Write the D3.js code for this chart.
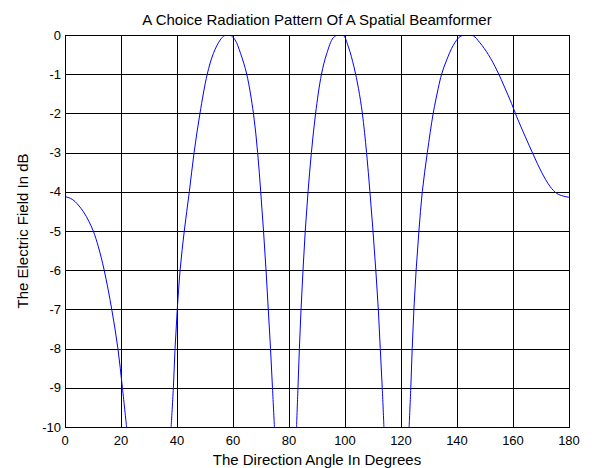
<!DOCTYPE html>
<html>
<head>
<meta charset="utf-8">
<script src="https://cdn.jsdelivr.net/npm/d3@7"></script>
<style>
  body { margin: 0; background: #fff; }
  text { font-family: "Liberation Sans", Arial, sans-serif; fill: #000; }
</style>
</head>
<body>
<div id="chart"></div>
<script>
// values; null marks a null of the pattern,
// which drops far below the -10 dB floor of the axes
const angleDeg = [0, 2, 3.6, 6.5, 8.5, 10.1, 11.9, 14.0, 16.7, 18.9, 20.5, 22.0,
  30,
  37.9, 38.7, 39.3, 40.1, 41.1, 42.6, 44.4, 46.1, 48.2, 50.8, 53.0, 55.4, 57.1, 58.9,
  60.7, 62.7, 64.9, 67.3, 68.8, 69.9, 70.9, 71.8, 72.6, 73.4, 74.1, 74.8,
  79,
  82.7, 83.2, 83.7, 84.3, 85.0, 85.8, 86.8, 88.0, 89.5, 91.6, 93.5, 95.8, 97.6,
  99.4, 101.2, 103.2, 104.8, 106.2, 107.7, 108.9, 110.0, 111.0, 111.9, 112.6, 113.3, 113.9,
  118.5,
  122.9, 123.5, 124.0, 124.6, 125.4, 126.4, 127.6, 129.4, 131.5, 133.3,
  134.5, 136.3, 138.7, 141.1, 143.5, 145.8, 148.2, 151.2, 154.4, 157.1, 159.5, 161.3,
  164.3, 167.3, 170.2, 173.2, 175.6, 178.0, 180];
const fieldDb = [-4.12, -4.17, -4.25, -4.5, -4.75, -5.0, -5.4, -6.0, -7.0, -8.0, -9.0, -10,
  null,
  -10, -9, -8, -7, -6, -5, -4, -3, -2, -1.0, -0.47, -0.13, -0.01, 0,
  -0.12, -0.47, -1.0, -2.0, -3.0, -4.0, -5.0, -6.0, -7.0, -8.0, -9.0, -10,
  null,
  -10, -9, -8, -7, -6, -5, -4, -3, -2, -1.0, -0.47, -0.07, 0,
  -0.01, -0.3, -0.81, -1.36, -2, -3, -4, -5, -6, -7, -8, -9, -10,
  null,
  -10, -9, -8, -7, -6, -5, -4, -3, -2, -1.36,
  -1.0, -0.64, -0.26, -0.04, 0, -0.02, -0.2, -0.5, -0.92, -1.35, -1.75, -2.08,
  -2.58, -3.06, -3.5, -3.86, -4.04, -4.11, -4.14];

const xTicks = [0, 20, 40, 60, 80, 100, 120, 140, 160, 180];
const yTicks = [0, -1, -2, -3, -4, -5, -6, -7, -8, -9, -10];

const titleText = "A Choice Radiation Pattern Of A Spatial Beamformer";
const xLabel = "The Direction Angle In Degrees";
const yLabel = "The Electric Field In dB";

const W = 592, H = 468;
const margin = { top: 35, right: 23, bottom: 41, left: 65 };
const width = W - margin.left - margin.right;
const height = H - margin.top - margin.bottom;

const svg = d3.select("#chart").append("svg")
  .attr("width", W).attr("height", H)
  .style("background", "#fff");

const g = svg.append("g")
  .attr("transform", `translate(${margin.left},${margin.top})`);

const x = d3.scaleLinear().domain([0, 180]).range([0, width]);
const y = d3.scaleLinear().domain([-10, 0]).range([height, 0]);

// grid (solid black, like the source)
g.append("g").selectAll("line").data(xTicks).join("line")
  .attr("x1", d => Math.round(x(d)) + 0.5).attr("x2", d => Math.round(x(d)) + 0.5)
  .attr("y1", 0).attr("y2", height)
  .attr("stroke", "#000").attr("stroke-width", 1);
g.append("g").selectAll("line").data(yTicks).join("line")
  .attr("y1", d => Math.round(y(d)) + 0.5).attr("y2", d => Math.round(y(d)) + 0.5)
  .attr("x1", 0).attr("x2", width)
  .attr("stroke", "#000").attr("stroke-width", 1);

g.append("clipPath").attr("id", "clip")
  .append("rect").attr("width", width + 1).attr("height", height + 1);

const line = d3.line()
  .defined(i => fieldDb[i] !== null)
  .x(i => x(angleDeg[i]))
  .y(i => y(fieldDb[i]))
  .curve(d3.curveCatmullRom.alpha(0.5));

g.append("path")
  .attr("clip-path", "url(#clip)")
  .attr("d", line(d3.range(angleDeg.length)))
  .attr("fill", "none")
  .attr("stroke", "#0000ff")
  .attr("stroke-width", 1);

// frame
g.append("rect")
  .attr("x", 0.5).attr("y", 0.5)
  .attr("width", width).attr("height", height)
  .attr("fill", "none").attr("stroke", "#000");

// tick labels
g.append("g").selectAll("text").data(xTicks).join("text")
  .attr("x", d => x(d)).attr("y", height + 18)
  .attr("text-anchor", "middle")
  .style("font-size", "13px")
  .text(d => d);
g.append("g").selectAll("text").data(yTicks).join("text")
  .attr("x", -4).attr("y", d => y(d))
  .attr("dy", "0.36em")
  .attr("text-anchor", "end")
  .style("font-size", "13px")
  .text(d => d);

// labels
svg.append("text")
  .attr("x", margin.left + width / 2).attr("y", 25)
  .attr("text-anchor", "middle")
  .style("font-size", "15px")
  .text(titleText);
svg.append("text")
  .attr("x", margin.left + width / 2).attr("y", 465)
  .attr("text-anchor", "middle")
  .style("font-size", "15px")
  .text(xLabel);
svg.append("text")
  .attr("transform", `translate(28,${margin.top + height / 2}) rotate(-90)`)
  .attr("text-anchor", "middle")
  .style("font-size", "15px")
  .text(yLabel);
</script>
</body>
</html>
